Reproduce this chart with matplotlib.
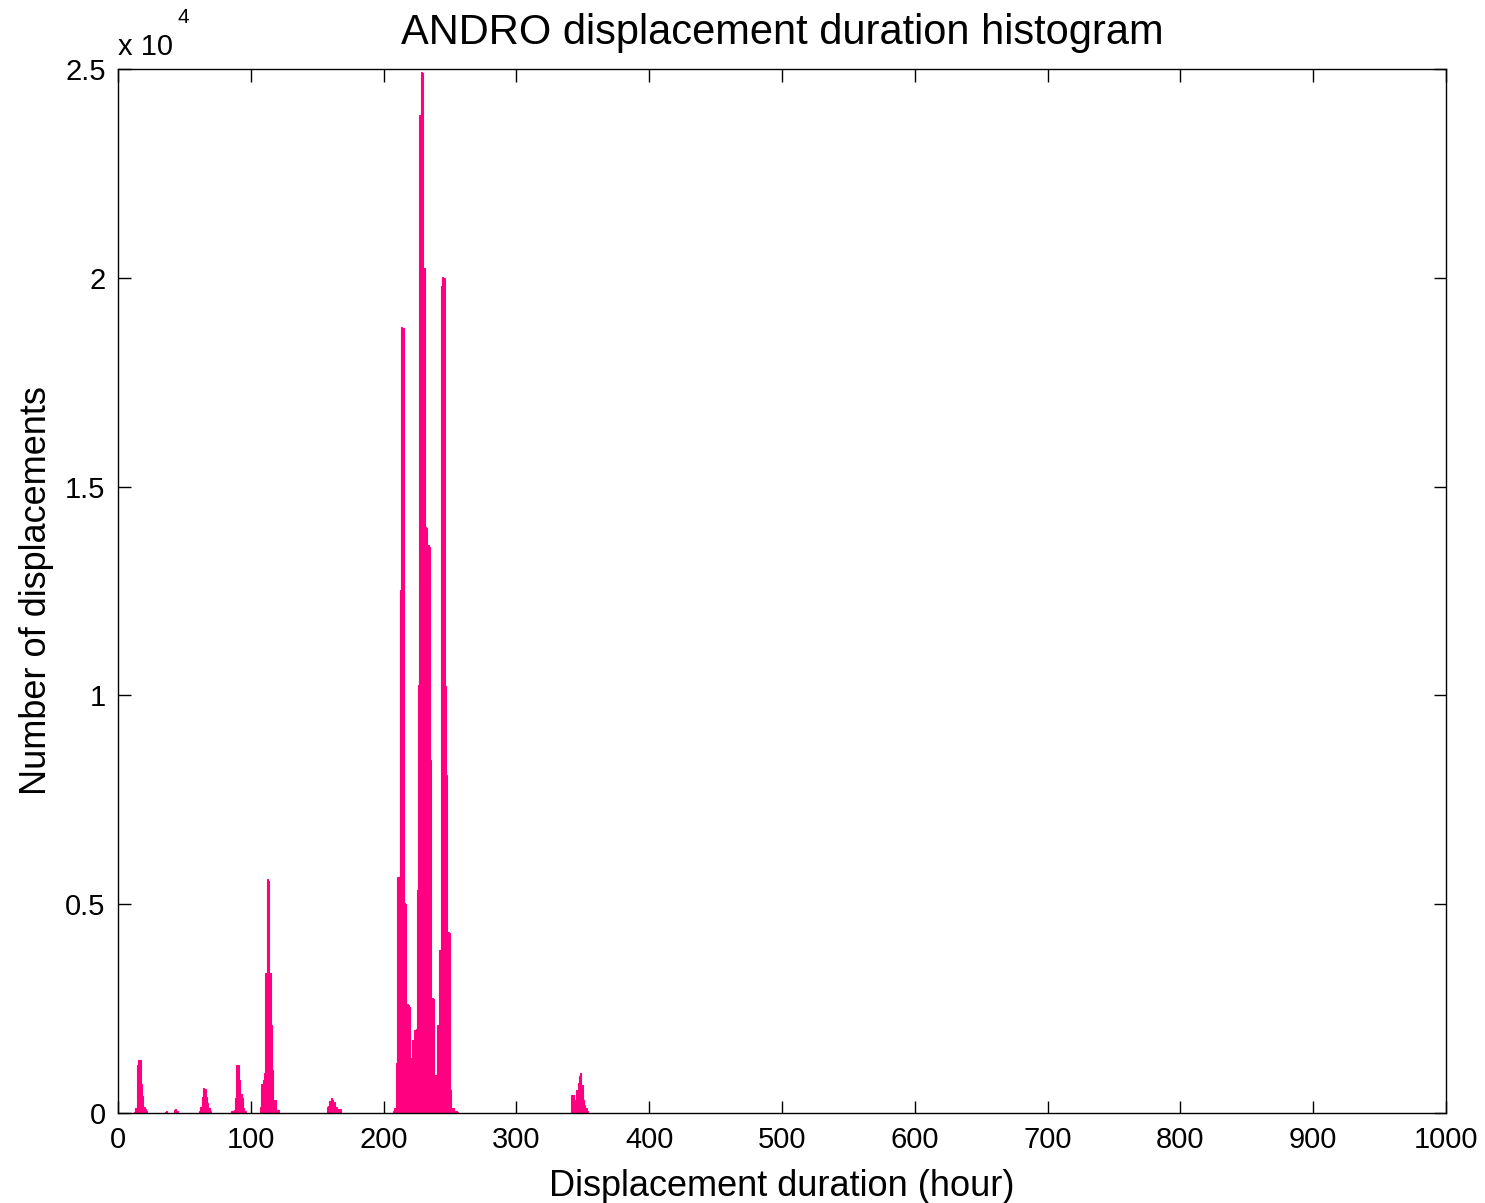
import numpy as np
import matplotlib
matplotlib.use('Agg')
import matplotlib.pyplot as plt
from matplotlib.ticker import FuncFormatter

# histogram bins (1 hour wide), start hour of each bin and number of displacements
hours_c1 = [12, 13, 14, 15, 16, 17, 18, 19, 20, 21]
counts_c1 = [30, 120, 1150, 1270, 1260, 700, 400, 150, 100, 50]

hours_c2 = [35, 36, 42, 43, 44]
counts_c2 = [30, 40, 80, 100, 60]

hours_c3 = [61, 62, 63, 64, 65, 66, 67, 68, 69]
counts_c3 = [60, 150, 380, 600, 580, 380, 230, 120, 60]

hours_c4 = [85, 86, 87, 88, 89, 90, 91, 92, 93, 94, 95]
counts_c4 = [50, 60, 80, 350, 1150, 1150, 800, 450, 350, 120, 40]

hours_c5 = [107, 108, 109, 110, 111, 112, 113, 114, 115, 116, 117, 118, 119, 120]
counts_c5 = [150, 700, 800, 950, 3350, 5600, 5550, 3350, 2100, 1030, 310, 300, 70, 70]

hours_c6 = [157, 158, 159, 160, 161, 162, 163, 164, 165, 166, 167]
counts_c6 = [150, 170, 280, 350, 300, 260, 150, 140, 100, 100, 90]

hours_main = list(range(207, 256))
counts_main = [60, 130, 1200, 5660, 5660, 12520, 18830, 18800, 5030, 5000,
               2600, 2580, 2550, 1320, 1750, 1760, 1990, 2000, 5340, 10250,
               23900, 24940, 24900, 20230, 14030, 14000, 13600, 13550, 8450, 2750,
               2740, 910, 920, 2100, 2110, 3900, 19800, 20020, 20000, 10220,
               8090, 4330, 4320, 550, 120, 110, 50, 40, 30]

hours_c7 = [341, 342, 343, 344, 345, 346, 347, 348, 349, 350, 351, 352, 353]
counts_c7 = [430, 430, 310, 320, 550, 720, 880, 950, 670, 310, 200, 120, 60]

hours = hours_c1 + hours_c2 + hours_c3 + hours_c4 + hours_c5 + hours_c6 + hours_main + hours_c7
counts = counts_c1 + counts_c2 + counts_c3 + counts_c4 + counts_c5 + counts_c6 + counts_main + counts_c7

bar_color = '#ff0080'
plt.rcParams['font.family'] = ['Liberation Sans', 'DejaVu Sans']

fig = plt.figure(figsize=(14.85, 12.03), dpi=100)
ax = fig.add_axes([0.0795, 0.0748, 0.8942, 0.8678])

ax.bar(hours, counts, width=1.0, align='edge', color=bar_color,
       edgecolor=bar_color, linewidth=0.8)

ax.set_xlim(0, 1000)
ax.set_ylim(0, 25000)
ax.set_xticks(np.arange(0, 1001, 100))
ax.set_yticks(np.arange(0, 25001, 5000))
ax.yaxis.set_major_formatter(FuncFormatter(lambda v, p: f"{v / 1e4:g}"))

ax.tick_params(direction='in', length=9, width=1, top=True, right=True,
               labelsize=21, pad=9)
for s in ax.spines.values():
    s.set_linewidth(1)

ax.set_xlabel('Displacement duration (hour)', fontsize=26, labelpad=11)
ax.set_ylabel('Number of displacements', fontsize=26, labelpad=8)
ax.set_title('ANDRO displacement duration histogram', fontsize=30, pad=18)

# exponent label in MATLAB style
ax.text(0.0, 1.008, 'x 10', transform=ax.transAxes, fontsize=21,
        ha='left', va='bottom')
ax.text(0.0445, 1.04, '4', transform=ax.transAxes, fontsize=15,
        ha='left', va='bottom')

fig.savefig('out.png', dpi=100)
